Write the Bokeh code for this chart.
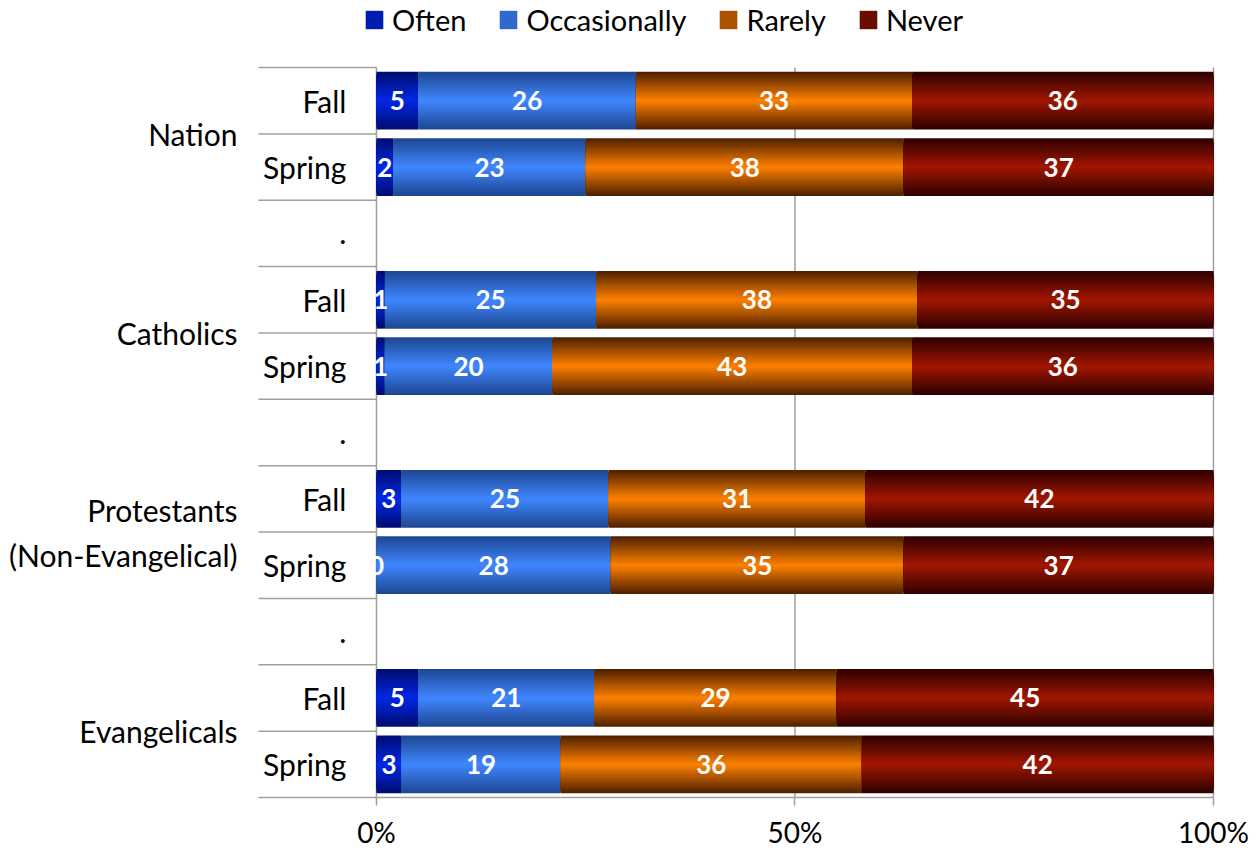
from bokeh.plotting import figure
from bokeh.models import Range1d, FixedTicker, Legend, LegendItem
from bokeh.core.properties import value
from bokeh.embed import file_html
from bokeh.resources import INLINE

# ---------------- data ----------------
groups = ["Nation", "Catholics", "Protestants\n(Non-Evangelical)", "Evangelicals"]
waves = ["Fall", "Spring"]
series = ["Often", "Occasionally", "Rarely", "Never"]
often = [5, 2, 1, 1, 3, 0, 5, 3]
occasionally = [26, 23, 25, 20, 25, 28, 21, 19]
rarely = [33, 38, 38, 43, 31, 35, 29, 36]
never = [36, 37, 35, 36, 42, 37, 45, 42]
x_ticks = [0, 50, 100]
x_tick_labels = ["0%", "50%", "100%"]
spacer_label = "."

# ---------------- styles ----------------
FONT = "Lato"
edge_colors = ["#000C70", "#1E4690", "#4C1F00", "#2C0000"]
center_colors = ["#0028E6", "#3F87FF", "#FF8000", "#A21600"]
GRAY = "#A0A0A0"
N_LAYERS = 16
BAR_H = 0.87


def lerp_color(c1, c2, t):
    a = [int(c1[i:i + 2], 16) for i in (1, 3, 5)]
    b = [int(c2[i:i + 2], 16) for i in (1, 3, 5)]
    return "#%02x%02x%02x" % tuple(int(round(a[j] + (b[j] - a[j]) * t)) for j in range(3))


n_rows = 3 * len(groups) - 1
bar_rows = []
for g in range(len(groups)):
    for w in range(len(waves)):
        bar_rows.append(3 * g + w)
bar_y = [r + 0.5 for r in bar_rows]

p = figure(width=1258, height=851, output_backend="svg", toolbar_location=None,
           x_range=Range1d(-44.92, 100.84), y_range=Range1d(n_rows, -1.01),
           y_axis_location=None, min_border_left=0, min_border_right=38,
           min_border_top=0, min_border_bottom=54)
p.outline_line_color = None
p.background_fill_color = "white"
p.grid.visible = False

# vertical grid lines (only across the plotting rows)
p.segment(x0=x_ticks, x1=x_ticks, y0=[0] * len(x_ticks), y1=[n_rows] * len(x_ticks),
          line_color=GRAY, line_width=1.5)

values_all = [often, occasionally, rarely, never]
totals = [sum(v[i] for v in values_all) for i in range(len(often))]

legend_items = []
cum = [0.0] * len(often)
text_x, text_y, text_s = [], [], []
for s, vals in enumerate(values_all):
    lefts = [cum[i] / totals[i] * 100 for i in range(len(vals))]
    cum = [cum[i] + vals[i] for i in range(len(vals))]
    rights = [cum[i] / totals[i] * 100 for i in range(len(vals))]
    legend_r = None
    for k in range(N_LAYERS):
        t = 1 - (k + 0.5) / N_LAYERS
        col = lerp_color(center_colors[s], edge_colors[s], t)
        h = BAR_H * (1 - k / N_LAYERS)
        r = p.hbar(y=bar_y, left=lefts, right=rights, height=h,
                   fill_color=col, line_color=None)
        if k == int(N_LAYERS * 0.55):
            legend_r = r
    legend_items.append(LegendItem(label=series[s], renderers=[legend_r]))
    for i in range(len(vals)):
        text_x.append((lefts[i] + rights[i]) / 2)
        text_y.append(bar_y[i])
        text_s.append(str(vals[i]))

p.text(x=text_x, y=text_y, text=text_s, text_align="center", text_baseline="middle",
       text_color="white", text_font=value(FONT), text_font_style="bold",
       text_font_size="26px")

inner_x, inner_y, inner_t = [], [], []
for g in range(len(groups)):
    for w in range(len(waves)):
        inner_x.append(-3.6)
        inner_y.append(3 * g + w + 0.5)
        inner_t.append(waves[w])
    if g < len(groups) - 1:
        inner_x.append(-3.6)
        inner_y.append(3 * g + 2 + 0.5)
        inner_t.append(spacer_label)
p.text(x=inner_x, y=inner_y, text=inner_t, text_align="right", text_baseline="middle",
       text_color="black", text_font=value(FONT), text_font_size="30px")

p.text(x=[-16.6] * len(groups), y=[3 * g + 1.0 for g in range(len(groups))], text=groups,
       text_align="right", text_baseline="middle", text_color="black",
       text_font=value(FONT), text_font_size="30px", text_line_height=1.25)

seps = list(range(n_rows))
p.segment(x0=[-14.1] * len(seps), x1=[0] * len(seps), y0=seps, y1=seps,
          line_color=GRAY, line_width=1.5)

ax = p.xaxis[0]
ax.ticker = FixedTicker(ticks=x_ticks)
ax.major_label_overrides = {t: l for t, l in zip(x_ticks, x_tick_labels)}
ax.bounds = (-14.1, 100)
ax.axis_line_color = GRAY
ax.axis_line_width = 1.5
ax.major_tick_line_color = GRAY
ax.major_tick_line_width = 1.5
ax.major_tick_out = 8
ax.major_tick_in = 0
ax.minor_tick_line_color = None
ax.major_label_text_font = FONT
ax.major_label_text_font_size = "28px"
ax.major_label_text_color = "black"
ax.major_label_standoff = 9

legend = Legend(items=legend_items, orientation="horizontal", location=(363, 760),
                glyph_width=22, glyph_height=23, label_standoff=7, spacing=31,
                padding=0, margin=0, border_line_color=None, background_fill_alpha=0,
                label_text_font=FONT, label_text_font_size="29px", label_text_color="black")
p.add_layout(legend)

open("out.html", "w").write(file_html(p, INLINE))
